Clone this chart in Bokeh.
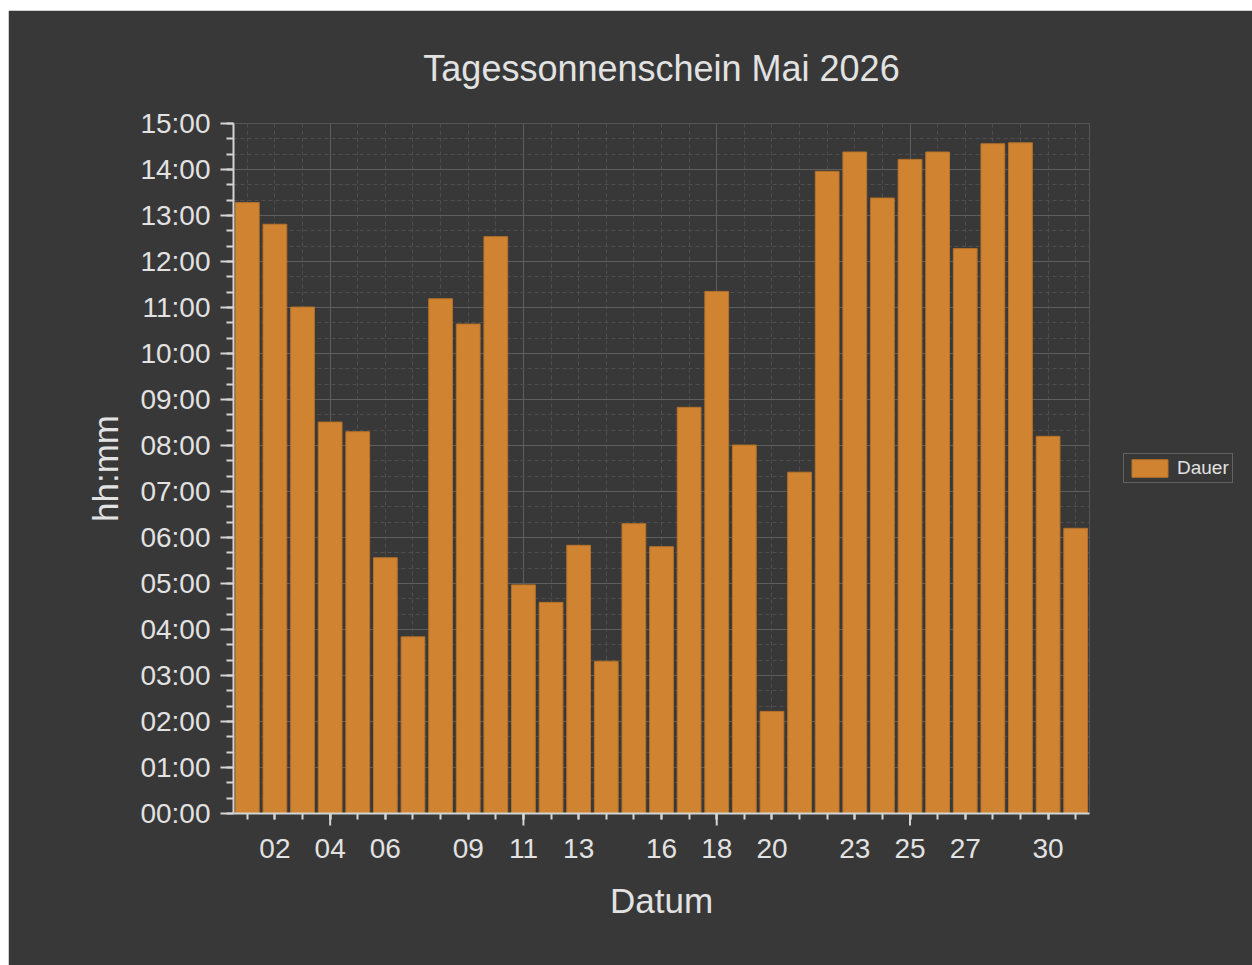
from bokeh.plotting import figure
from bokeh.models import (ColumnDataSource, FixedTicker, Range1d, Legend, LegendItem)
from bokeh.embed import file_html
from bokeh.resources import INLINE

# ---- data ----
days = list(range(1, 32))
sunshine_hours = [13.28, 12.81, 11.01, 8.51, 8.30, 5.56, 3.84, 11.19, 10.64, 12.54,
                  4.97, 4.59, 5.83, 3.31, 6.30, 5.80, 8.83, 11.35, 8.01, 2.22,
                  7.42, 13.96, 14.38, 13.38, 14.22, 14.38, 12.28, 14.56, 14.58, 8.20,
                  6.20]
label_days = [2, 4, 6, 9, 11, 13, 16, 18, 20, 23, 25, 27, 30]
day_labels = ["02", "04", "06", "09", "11", "13", "16", "18", "20", "23", "25", "27", "30"]
week_days = [4, 11, 18, 25]
hours = list(range(0, 16))
hour_labels = ["00:00", "01:00", "02:00", "03:00", "04:00", "05:00", "06:00", "07:00",
               "08:00", "09:00", "10:00", "11:00", "12:00", "13:00", "14:00", "15:00"]
minor_hours = [h / 3 for h in range(0, 46)]

title_text = "Tagessonnenschein Mai 2026"
series_name = "Dauer"

BG = "#383838"
TXT = "#E2E2E2"
AX = "#D4D4D4"
BAR = "#D08431"
BAR_LINE = "#B5722A"
FONT = "Liberation Sans"

FRAME_W, FRAME_H = 856, 690
Y_MAX = 15
LONG_TICK_PX = 12

src = ColumnDataSource(dict(day=days, hours=sunshine_hours))

p = figure(frame_width=FRAME_W, frame_height=FRAME_H, output_backend="svg",
           toolbar_location=None,
           x_range=Range1d(0.5, 31.5), y_range=Range1d(0, Y_MAX),
           min_border_left=225, min_border_right=163, min_border_top=112,
           min_border_bottom=152)
p.margin = (10, 0, 0, 8)
p.background_fill_color = BG
p.border_fill_color = BG
p.outline_line_color = "#555555"

p.title.text = title_text
p.title.align = "center"
p.title.text_font = FONT
p.title.text_font_size = "36px"
p.title.text_font_style = "normal"
p.title.text_color = TXT
p.title.standoff = 70

r = p.vbar(x="day", top="hours", width=0.86, source=src,
           fill_color=BAR, line_color=BAR_LINE, line_width=1)

# ---- y axis ----
yax = p.yaxis[0]
yax.ticker = FixedTicker(ticks=hours, minor_ticks=minor_hours)
yax.major_label_overrides = {h: lab for h, lab in zip(hours, hour_labels)}
yax.axis_label = "hh:mm"
yax.axis_label_text_font = FONT
yax.axis_label_text_font_size = "35px"
yax.axis_label_text_font_style = "normal"
yax.axis_label_text_color = TXT
yax.axis_label_standoff = 12
yax.major_label_text_font = FONT
yax.major_label_text_font_size = "28px"
yax.major_label_text_color = TXT
yax.major_label_standoff = 10
yax.axis_line_color = AX
yax.axis_line_width = 2
yax.major_tick_line_color = AX
yax.major_tick_line_width = 2
yax.major_tick_out = 13
yax.major_tick_in = 0
yax.minor_tick_line_color = AX
yax.minor_tick_line_width = 2
yax.minor_tick_out = 7
yax.minor_tick_in = 0

# ---- x axis ----
xax = p.xaxis[0]
xax.ticker = FixedTicker(ticks=label_days, minor_ticks=days)
xax.major_label_overrides = {d: lab for d, lab in zip(label_days, day_labels)}
xax.major_label_standoff = 19
xax.major_label_text_font = FONT
xax.major_label_text_font_size = "28px"
xax.major_label_text_color = TXT
xax.axis_label = "Datum"
xax.axis_label_text_font = FONT
xax.axis_label_text_font_size = "35px"
xax.axis_label_text_font_style = "normal"
xax.axis_label_text_color = TXT
xax.axis_label_standoff = 20
xax.axis_line_color = AX
xax.axis_line_width = 2
xax.major_tick_line_color = AX
xax.major_tick_line_width = 2
xax.major_tick_out = 6
xax.major_tick_in = 0
xax.minor_tick_line_color = AX
xax.minor_tick_line_width = 2
xax.minor_tick_out = 6
xax.minor_tick_in = 0

# long weekly tick marks below the axis (drawn unclipped at overlay level)
long_len = LONG_TICK_PX * Y_MAX / FRAME_H
p.segment(x0=week_days, y0=[0] * len(week_days), x1=week_days,
          y1=[-long_len] * len(week_days), line_color=AX, line_width=2,
          level="overlay")

# ---- grids ----
p.xgrid.ticker = FixedTicker(ticks=week_days, minor_ticks=days)
p.xgrid.grid_line_color = "#5E5E5E"
p.xgrid.grid_line_width = 1
p.xgrid.minor_grid_line_color = "#4E4E4E"
p.xgrid.minor_grid_line_dash = "4 3"
p.ygrid.ticker = FixedTicker(ticks=hours, minor_ticks=minor_hours)
p.ygrid.grid_line_color = "#5E5E5E"
p.ygrid.grid_line_width = 1
p.ygrid.minor_grid_line_color = "#4E4E4E"
p.ygrid.minor_grid_line_dash = "4 3"

# ---- legend ----
legend = Legend(items=[LegendItem(label=series_name, renderers=[r])],
                location="center_left", orientation="vertical")
legend.margin = 34
legend.padding = 3
legend.spacing = 0
legend.glyph_width = 45
legend.glyph_height = 22
legend.label_standoff = 5
legend.label_text_font = FONT
legend.label_text_font_size = "19px"
legend.label_text_color = TXT
legend.label_height = 22
legend.background_fill_color = BG
legend.border_line_color = "#8C8C8C"
legend.border_line_width = 1
p.add_layout(legend, "right")

open("out.html", "w").write(file_html(p, INLINE))
